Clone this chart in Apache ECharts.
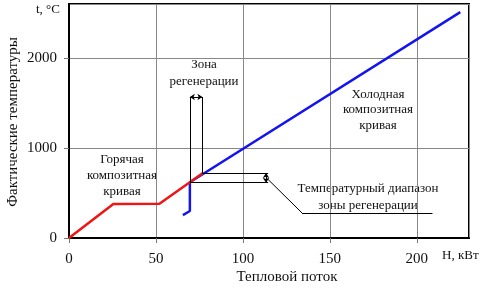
<!DOCTYPE html>
<html>
<head>
<meta charset="utf-8">
<script src="https://cdn.jsdelivr.net/npm/echarts@6/dist/echarts.min.js"></script>
<style>
  html, body { margin: 0; padding: 0; background: #fff; }
  #main { width: 488px; height: 287px; }
</style>
</head>
<body>
<div id="main"></div>
<script>
// axis ticks
var xTicks = [0, 50, 100, 150, 200];
var yTicks = [0, 1000, 2000];

// hot composite curve (H, kW ; t, C)
var hotH = [0, 25.5, 52, 77];
var hotT = [0, 378, 380, 722];

// cold composite curve
var coldH = [65.5, 69.5, 69.5, 225];
var coldT = [255, 300, 620, 2510];

// regeneration zone bounds
var zoneH = [69.5, 76.7];
var zoneT = [615, 722];

var font = "'Liberation Serif', 'DejaVu Serif', serif";

function pairs(xs, ys) {
  return xs.map(function (x, i) { return [x, ys[i]]; });
}

var thin = { color: "#000", width: 1, type: "solid" };

var annotations = [
  // zone verticals
  [[zoneH[0], zoneT[0]], [zoneH[0], 1567]],
  [[zoneH[1], zoneT[1]], [zoneH[1], 1567]],
  // temperature range horizontals
  [[zoneH[1], zoneT[1]], [114.5, zoneT[1]]],
  [[zoneH[0], zoneT[0]], [114.5, zoneT[0]]],
  // leader line
  [[114.5, 650], [134, 278]],
  [[134, 278], [209, 278]]
];
var arrows = [
  [[zoneH[0], 1567], [zoneH[1], 1567]],
  [[113.3, zoneT[0]], [113.3, zoneT[1]]]
];

var myChart = echarts.init(document.getElementById("main"));

var option = {
  backgroundColor: "#fff",
  animation: false,
  grid: {
    left: 69, right: 19, top: 4, bottom: 49,
    show: true, borderColor: "#000", borderWidth: 2
  },
  xAxis: {
    type: "value", min: 0, max: 230, interval: 50,
    axisLine: { onZero: false, lineStyle: { color: "#000", width: 2 } },
    axisTick: { show: true, length: 5, lineStyle: { color: "#777" } },
    splitLine: { lineStyle: { color: "#888", width: 1 } },
    axisLabel: {
      color: "#111", fontFamily: font, fontSize: 15, margin: 14,
      showMaxLabel: false,
      formatter: function (v) { return xTicks.indexOf(v) >= 0 ? String(v) : ""; }
    }
  },
  yAxis: {
    type: "value", min: 0, max: 2600, interval: 1000,
    axisLine: { onZero: false, lineStyle: { color: "#000", width: 2 } },
    axisTick: { show: true, length: 5, lineStyle: { color: "#777" } },
    splitLine: { lineStyle: { color: "#888", width: 1 } },
    axisLabel: {
      color: "#111", fontFamily: font, fontSize: 15, margin: 12,
      showMaxLabel: false,
      formatter: function (v) { return yTicks.indexOf(v) >= 0 ? String(v) : ""; }
    }
  },
  series: [
    {
      name: "cold", type: "line", data: pairs(coldH, coldT),
      symbol: "none", lineStyle: { color: "#1414f0", width: 2.5 }, z: 3
    },
    {
      name: "hot", type: "line", data: pairs(hotH, hotT),
      symbol: "none", lineStyle: { color: "#f01414", width: 2.5 }, z: 4
    },
    {
      name: "notes", type: "line", data: [], z: 2,
      markLine: {
        silent: true, symbol: "none", label: { show: false },
        lineStyle: thin,
        data: annotations.map(function (a) {
          return [{ coord: a[0] }, { coord: a[1] }];
        })
      }
    },
    {
      name: "arrows", type: "line", data: [], z: 2,
      markLine: {
        silent: true, symbol: ["arrow", "arrow"], symbolSize: 5,
        label: { show: false },
        lineStyle: thin,
        data: arrows.map(function (a) {
          return [{ coord: a[0] }, { coord: a[1] }];
        })
      }
    }
  ],
  graphic: [
    { type: "text", left: 36, top: 3, style: { text: "t, °C", font: "13px " + font, fill: "#111" } },
    { type: "text", left: 442, top: 249, style: { text: "H, кВт", font: "13px " + font, fill: "#111" } },
    { type: "text", x: 287, y: 277, style: { text: "Тепловой поток", font: "15px " + font, fill: "#111", align: "center", verticalAlign: "middle" } },
    { type: "text", x: 13, y: 122, rotation: Math.PI / 2, style: { text: "Фактические температуры", font: "15px " + font, fill: "#111", align: "center", verticalAlign: "middle" } },
    { type: "text", x: 204, y: 73, style: { text: "Зона\nрегенерации", font: "13px " + font, fill: "#111", align: "center", verticalAlign: "middle", lineHeight: 17 } },
    { type: "text", x: 122, y: 176, style: { text: "Горячая\nкомпозитная\nкривая", font: "13px " + font, fill: "#111", align: "center", verticalAlign: "middle", lineHeight: 16 } },
    { type: "text", x: 378, y: 110, style: { text: "Холодная\nкомпозитная\nкривая", font: "13px " + font, fill: "#111", align: "center", verticalAlign: "middle", lineHeight: 15.5 } },
    { type: "text", x: 368, y: 197, style: { text: "Температурный диапазон\nзоны регенерации", font: "13px " + font, fill: "#111", align: "center", verticalAlign: "middle", lineHeight: 17 } }
  ]
};

myChart.setOption(option);
</script>
</body>
</html>
